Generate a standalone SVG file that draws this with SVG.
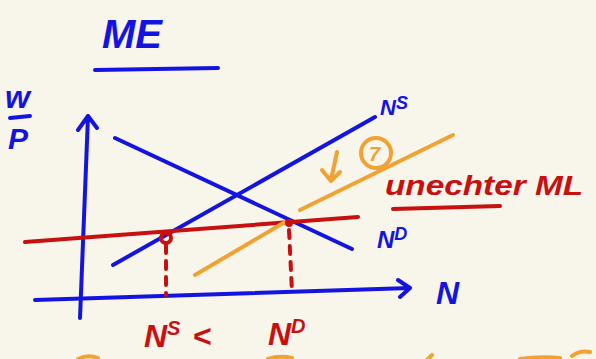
<svg xmlns="http://www.w3.org/2000/svg" width="596" height="359" viewBox="0 0 596 359">
<style>
.b{stroke:#1414e0;fill:none;stroke-width:4;stroke-linecap:round;stroke-linejoin:round}
.r{stroke:#c81010;fill:none;stroke-width:4;stroke-linecap:round}
.o{stroke:#f0a232;fill:none;stroke-width:4;stroke-linecap:round;stroke-linejoin:round}
.tb{fill:#1414e0;font-family:"Liberation Sans",sans-serif;font-weight:bold;font-style:italic}
.tr{fill:#c81010;font-family:"Liberation Sans",sans-serif;font-weight:bold;font-style:italic}
.to{fill:#f0a232;font-family:"Liberation Sans",sans-serif;font-weight:bold;font-style:italic}
</style>
<rect width="596" height="359" fill="#f8f5eb"/>
<g id="title">
<text class="tb" x="102" y="48" font-size="40">ME</text>
<path class="b" d="M95 70 L218 68"/>
</g>
<g id="ylabel">
<text class="tb" x="5" y="108" font-size="32">w</text>
<path class="b" d="M10 118 L30 116"/>
<text class="tb" x="8" y="149" font-size="30">P</text>
</g>
<g id="connectors">
<path class="b" d="M80 318 L88 116 M78 130 L88 116 L97 128"/>
<path class="b" d="M35 300 L410 288 M398 280 L410 288 L400 297"/>
<path class="b" d="M115 138 L352 249"/>
<path class="b" d="M113 265 L375 117"/>
<path class="r" d="M25 242 L358 217"/>
<path class="r" d="M166 245 L166 295 M289 230 L292 292" stroke-dasharray="8 8"/>
<path class="o" d="M195 275 L285 222"/>
<path class="o" d="M300 210 L453 135"/>
</g>
<g id="points">
<circle cx="166" cy="238" r="5" fill="none" stroke="#c81010" stroke-width="4"/>
<circle cx="289" cy="223" r="4" fill="#c81010"/>
</g>
<g id="xlabel"><text class="tb" x="436" y="304" font-size="32">N</text></g>
<g id="NS"><text class="tb" x="380" y="115" font-size="22">N<tspan dy="-6" font-size="18">S</tspan></text></g>
<g id="ND"><text class="tb" x="377" y="248" font-size="24">N<tspan dy="-8" font-size="18">D</tspan></text></g>
<g id="shift">
<path class="o" d="M337 152 L331 180 M322 170 L331 181 L340 172"/>
<circle class="o" cx="376" cy="153" r="15" stroke-width="5"/>
<text class="to" x="369" y="161" font-size="20">7</text>
</g>
<g id="minwage">
<text class="tr" x="385" y="195" font-size="28" textLength="198" lengthAdjust="spacingAndGlyphs">unechter ML</text>
<path class="r" d="M393 209 L500 206"/>
</g>
<g id="compare">
<text class="tr" x="144" y="347" font-size="32">N<tspan dy="-12" font-size="20">S</tspan><tspan dy="12" dx="12">&lt;</tspan></text>
<text class="tr" x="268" y="345" font-size="32">N<tspan dy="-12" font-size="20">D</tspan></text>
</g>
<g id="bottom">
<path class="o" d="M78 359 Q88 354 98 358 M268 359 Q280 355 292 358 M428 359 L432 355 M520 359 Q540 356 560 358 M572 356 Q580 350 590 352"/>
</g>
</svg>
